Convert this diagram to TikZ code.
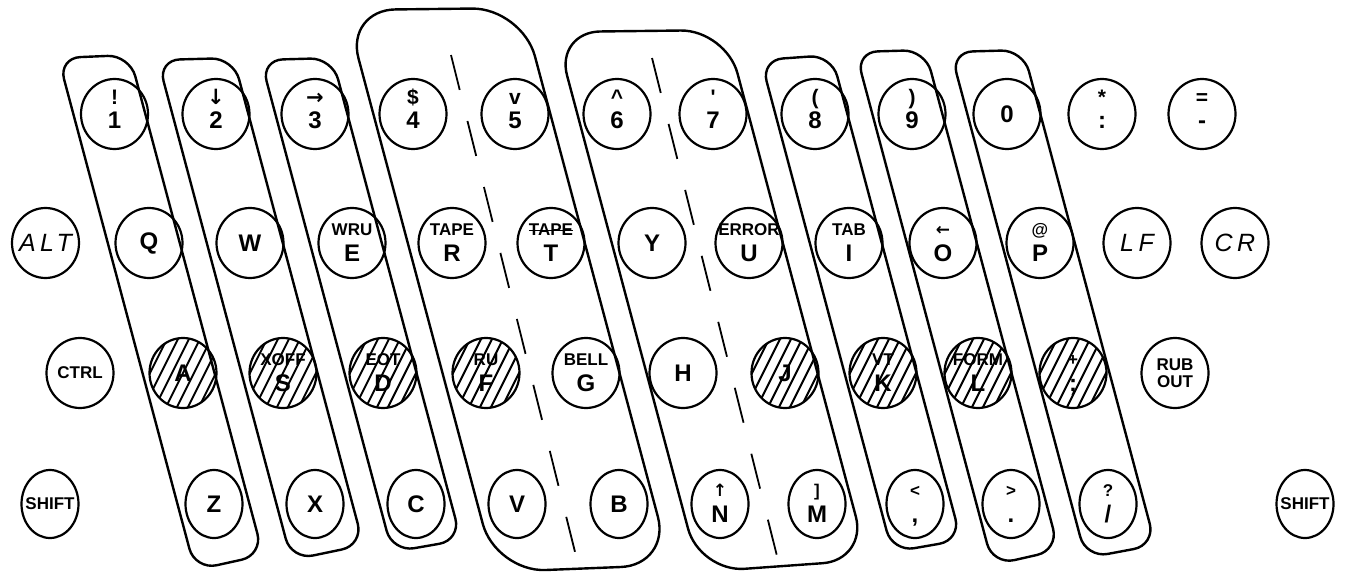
\documentclass[tikz,border=0pt]{standalone}
\usepackage{fontspec}
\usetikzlibrary{shapes.geometric}
\newfontfamily\keyfam{Liberation Sans}
\newfontfamily\symfam{DejaVu Sans}
\newfontfamily\handfam[LetterSpace=18]{Liberation Sans}
\newcommand\bigF{\keyfam\bfseries\fontsize{24}{24}\selectfont}
\newcommand\smlF{\keyfam\bfseries\fontsize{17}{17}\selectfont}
\newcommand\midF{\keyfam\bfseries\fontsize{21}{21}\selectfont}
\newcommand\kone[1]{\makebox[0pt]{\bigF #1}}
\newcommand\ksm[1]{\makebox[0pt]{\smlF #1}}
\newcommand\ktwo[2]{\vbox{\offinterlineskip\hbox to 0pt{\hss\smlF\smash{#1}\vphantom{A}\hss}\kern 9pt\hbox to 0pt{\hss\bigF\smash{#2}\vphantom{0}\hss}}}
\newcommand\ktop[2]{\vbox{\offinterlineskip\hbox to 0pt{\hss\midF\smash{#1}\vphantom{A}\hss}\kern 8pt\hbox to 0pt{\hss\bigF\smash{#2}\vphantom{0}\hss}\kern 9pt}}
\newcommand\kpair[2]{\vbox{\offinterlineskip\hbox to 0pt{\hss\smlF\smash{#1}\vphantom{A}\hss}\kern 6pt\hbox to 0pt{\hss\smlF\smash{#2}\vphantom{A}\hss}}}
\newcommand\khand[1]{\makebox[0pt]{\handfam\itshape\fontsize{25}{25}\selectfont #1}}
\newcommand\strk[1]{\setbox0=\hbox{#1}\rlap{\rule[0.42\ht0]{\wd0}{1.4pt}}\box0}
\def\bandslope{0.267}
\newcommand\drawband[7]{\draw[band, rounded corners=#7] ({#1+\bandslope*(#3-300)},#3) -- ({#2+\bandslope*(#4-300)},#4) -- ({#2+\bandslope*(#6-300)},#6) -- ({#1+\bandslope*(#5-300)},#5) -- cycle;}
\tikzset{
  key/.style={draw, ellipse, line width=2.2pt, minimum width=67pt, minimum height=70pt, inner sep=0pt},
  keyb/.style={key, minimum width=57pt, minimum height=68pt},
  band/.style={line width=2.4pt, line join=round},
  divider/.style={line width=1.8pt, dash pattern=on 36pt off 32pt},
  hatch/.style={path picture={\foreach \h in {-66,-55,...,66} {\draw[line width=2pt] ([xshift=\h pt]path picture bounding box.center) ++(-20pt,-40pt) -- ++(40pt,80pt);}}}
}
\begin{document}
\begin{tikzpicture}[x=1pt,y=-1pt]
\useasboundingbox (0,0) rectangle (1346,575);
% slanted strips
\drawband{123}{195}{58}{55}{570}{555}{22}
\drawband{222}{298}{60}{58}{560}{545}{22}
\drawband{325}{397}{60}{58}{552}{540}{22}
\drawband{423}{600}{10}{8}{572}{565}{50}
\drawband{627}{798}{32}{30}{572}{560}{45}
\drawband{825}{897}{60}{55}{552}{540}{22}
\drawband{922}{992}{52}{50}{565}{550}{22}
\drawband{1017}{1090}{52}{50}{558}{545}{22}
\draw[divider] (451,55) -- (577,560);
\draw[divider] (652,58) -- (778,560);
% row 1
\node[key] (k1) at (114.5,114) {\ktop{!}{1}};
\node[key] (k2) at (216,114) {\ktop{\symfam ↓}{2}};
\node[key] (k3) at (315,114) {\ktop{\symfam →}{3}};
\node[key] (k4) at (413,114) {\ktop{\$}{4}};
\node[key] (k5) at (515,114) {\ktop{v}{5}};
\node[key] (k6) at (617,114) {\ktop{\textasciicircum}{6}};
\node[key] (k7) at (713,114) {\ktop{'}{7}};
\node[key] (k8) at (815,114) {\ktop{(}{8}};
\node[key] (k9) at (912,114) {\ktop{)}{9}};
\node[key] (k0) at (1007,114) {\kone{0}};
\node[key] (kcolon) at (1102,114) {\ktop{*}{:}};
\node[key] (kminus) at (1202,114) {\ktop{=}{-}};
% row 2
\node[key] (kalt) at (45.5,243) {\khand{ALT}};
\node[key] (kq) at (149,243) {\kone{Q}};
\node[key] (kw) at (250,243) {\kone{W}};
\node[key] (ke) at (352,243) {\ktwo{WRU}{E}};
\node[key] (kr) at (452,243) {\ktwo{TAPE}{R}};
\node[key] (kt) at (551,243) {\ktwo{\strk{TAPE}}{T}};
\node[key] (ky) at (652,243) {\kone{Y}};
\node[key] (ku) at (749,243) {\ktwo{ERROR}{U}};
\node[key] (ki) at (849,243) {\ktwo{TAB}{I}};
\node[key] (ko) at (943,243) {\ktwo{\symfam ←}{O}};
\node[key] (kp) at (1040,243) {\ktwo{@}{P}};
\node[key] (klf) at (1137,243) {\khand{LF}};
\node[key] (kcr) at (1235,243) {\khand{CR}};
% row 3
\node[key] (kctrl) at (80,373) {\ksm{CTRL}};
\node[key, hatch] (ka) at (183,373) {\kone{A}};
\node[key, hatch] (ks) at (283,373) {\ktwo{XOFF}{S}};
\node[key, hatch] (kd) at (383,373) {\ktwo{EOT}{D}};
\node[key, hatch] (kf) at (486,373) {\ktwo{RU}{F}};
\node[key] (kg) at (586,373) {\ktwo{BELL}{G}};
\node[key] (kh) at (683,373) {\kone{H}};
\node[key, hatch] (kj) at (785,373) {\kone{J}};
\node[key, hatch] (kk) at (883,373) {\ktwo{VT}{K}};
\node[key, hatch] (kl) at (978,373) {\ktwo{FORM}{L}};
\node[key, hatch] (ksemi) at (1073,373) {\ktwo{+}{;}};
\node[key] (krub) at (1175,373) {\kpair{RUB}{OUT}};
% row 4
\node[keyb] (kshl) at (50,504) {\ksm{SHIFT}};
\node[keyb] (kz) at (214,504) {\kone{Z}};
\node[keyb] (kx) at (315,504) {\kone{X}};
\node[keyb] (kc) at (416,504) {\kone{C}};
\node[keyb] (kv) at (517,504) {\kone{V}};
\node[keyb] (kb) at (619,504) {\kone{B}};
\node[keyb] (kn) at (720,504) {\ktwo{\symfam ↑}{N}};
\node[keyb] (km) at (817,504) {\ktwo{]}{M}};
\node[keyb] (kcomma) at (915,504) {\ktwo{<}{,}};
\node[keyb] (kperiod) at (1011,504) {\ktwo{>}{.}};
\node[keyb] (kslash) at (1108,504) {\ktwo{?}{/}};
\node[keyb] (kshr) at (1305,504) {\ksm{SHIFT}};
\end{tikzpicture}
\end{document}
